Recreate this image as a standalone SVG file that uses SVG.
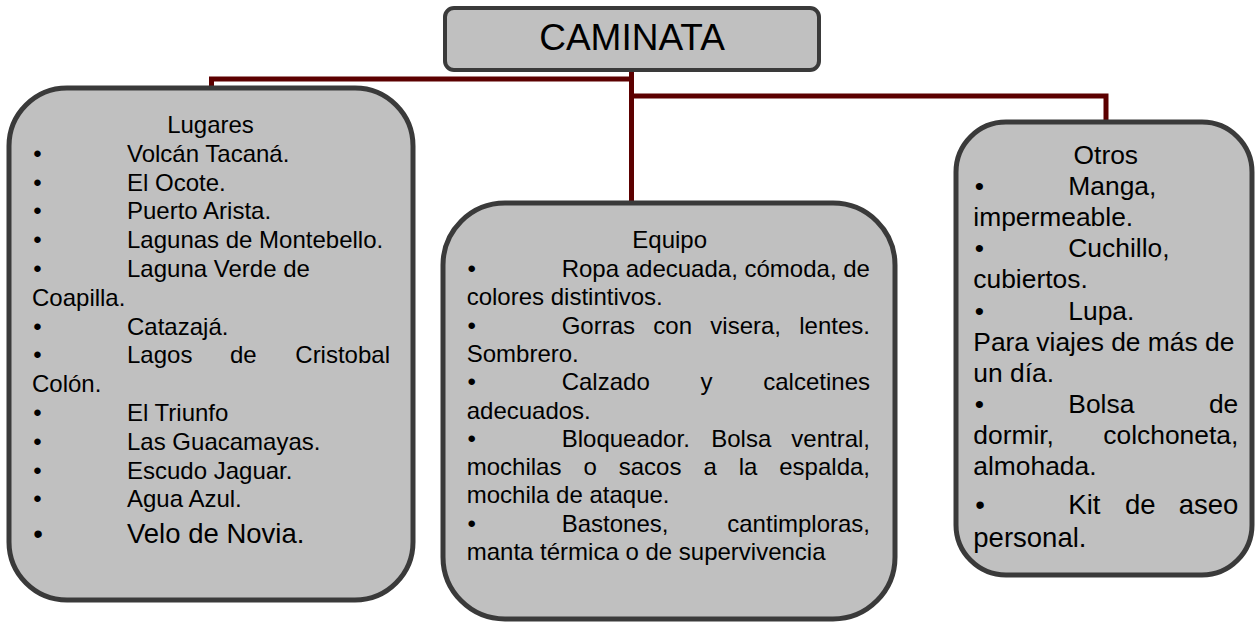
<svg xmlns="http://www.w3.org/2000/svg" width="1257" height="623" viewBox="0 0 1257 623">
<style>
.box{fill:#c0c0c0;stroke:#3a3a3a;stroke-width:5}
.top{fill:#c0c0c0;stroke:#3a3a3a;stroke-width:4}
.conn{fill:none;stroke:#5c0000;stroke-width:5}
text{font-family:"Liberation Sans",Arial,sans-serif;fill:#000}
.s24{font-size:24px}
.s26{font-size:26.4px}
.s27{font-size:27.5px}
.c{text-anchor:middle}
.e{text-anchor:end}
</style>
<rect width="1257" height="623" fill="#ffffff"/>
<g id="connectors">
<path class="conn" d="M211.5 92 V79 H634"/>
<path class="conn" d="M631.5 70 V205"/>
<path class="conn" d="M629 96 H1106 V125"/>
</g>
<g id="caminata">
<rect class="top" x="445" y="8" width="374" height="62" rx="9"/>
<text x="632" y="50" class="c" font-size="37">CAMINATA</text>
</g>
<g id="lugares" class="s24">
<rect class="box" x="9" y="88" width="404" height="512" rx="58"/>
<text x="210.5" y="133" class="c">Lugares</text>
<text x="37.5" y="161.8" class="c">•</text><text x="127" y="161.8">Volcán Tacaná.</text>
<text x="37.5" y="190.6" class="c">•</text><text x="127" y="190.6">El Ocote.</text>
<text x="37.5" y="219.4" class="c">•</text><text x="127" y="219.4">Puerto Arista.</text>
<text x="37.5" y="248.2" class="c">•</text><text x="127" y="248.2">Lagunas de Montebello.</text>
<text x="37.5" y="277" class="c">•</text><text x="127" y="277">Laguna Verde de</text>
<text x="32" y="305.8">Coapilla.</text>
<text x="37.5" y="334.6" class="c">•</text><text x="127" y="334.6">Catazajá.</text>
<text x="37.5" y="363.4" class="c">•</text><text x="127" y="363.4">Lagos</text><text x="230" y="363.4">de</text><text x="390" y="363.4" class="e">Cristobal</text>
<text x="32" y="392.2">Colón.</text>
<text x="37.5" y="421" class="c">•</text><text x="127" y="421">El Triunfo</text>
<text x="37.5" y="449.8" class="c">•</text><text x="127" y="449.8">Las Guacamayas.</text>
<text x="37.5" y="478.6" class="c">•</text><text x="127" y="478.6">Escudo Jaguar.</text>
<text x="37.5" y="507.4" class="c">•</text><text x="127" y="507.4">Agua Azul.</text>
<text x="38" y="543" class="c s27">•</text><text x="127" y="543" class="s27">Velo de Novia.</text>
</g>
<g id="equipo" class="s24">
<rect class="box" x="443" y="203" width="452" height="416" rx="62"/>
<text x="669.7" y="248" class="c">Equipo</text>
<text x="471.7" y="277" class="c">•</text><text x="561.7" y="277">Ropa adecuada, cómoda, de</text>
<text x="466.7" y="305.3">colores distintivos.</text>
<text x="471.7" y="333.6" class="c">•</text><text x="561.7" y="333.6">Gorras</text><text x="653.3" y="333.6">con</text><text x="710.3" y="333.6">visera,</text><text x="870" y="333.6" class="e">lentes.</text>
<text x="466.7" y="361.9">Sombrero.</text>
<text x="471.7" y="390.2" class="c">•</text><text x="561.7" y="390.2">Calzado</text><text x="700.5" y="390.2">y</text><text x="870" y="390.2" class="e">calcetines</text>
<text x="466.7" y="418.5">adecuados.</text>
<text x="471.7" y="446.8" class="c">•</text><text x="561.7" y="446.8">Bloqueador.</text><text x="711.2" y="446.8">Bolsa</text><text x="870" y="446.8" class="e">ventral,</text>
<text x="466.7" y="475.1">mochilas</text><text x="583.4" y="475.1">o</text><text x="618.7" y="475.1">sacos</text><text x="703.4" y="475.1">a</text><text x="738.7" y="475.1">la</text><text x="870" y="475.1" class="e">espalda,</text>
<text x="466.7" y="503.4">mochila de ataque.</text>
<text x="471.7" y="531.7" class="c">•</text><text x="561.7" y="531.7">Bastones,</text><text x="870" y="531.7" class="e">cantimploras,</text>
<text x="466.7" y="560">manta térmica o de supervivencia</text>
</g>
<g id="otros" class="s26">
<rect class="box" x="956" y="122" width="296" height="453" rx="50"/>
<text x="1105.8" y="164" class="c">Otros</text>
<text x="979.3" y="195.1" class="c">•</text><text x="1068.3" y="195.1">Manga,</text>
<text x="973.3" y="226.2">impermeable.</text>
<text x="979.3" y="257.3" class="c">•</text><text x="1068.3" y="257.3">Cuchillo,</text>
<text x="973.3" y="288.4">cubiertos.</text>
<text x="979.3" y="319.5" class="c">•</text><text x="1068.3" y="319.5">Lupa.</text>
<text x="973.3" y="350.6">Para viajes de más de</text>
<text x="973.3" y="381.7">un día.</text>
<text x="979.3" y="412.8" class="c">•</text><text x="1068.3" y="412.8">Bolsa</text><text x="1238.3" y="412.8" class="e">de</text>
<text x="973.3" y="443.9">dormir,</text><text x="1238.3" y="443.9" class="e">colchoneta,</text>
<text x="973.3" y="475">almohada.</text>
<text x="980" y="514" class="c s27">•</text><text x="1068.3" y="514" class="s27">Kit</text><text x="1125" y="514" class="s27">de</text><text x="1238.3" y="514" class="e s27">aseo</text>
<text x="973.3" y="547" class="s27">personal.</text>
</g>
</svg>
